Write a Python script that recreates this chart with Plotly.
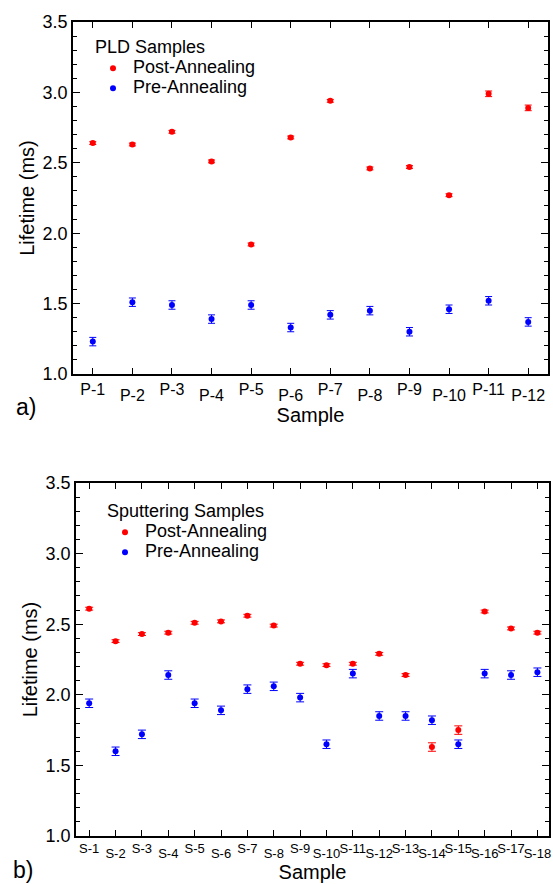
import plotly.graph_objects as go

# ---------------- data ----------------
pld_samples = ["P-1", "P-2", "P-3", "P-4", "P-5", "P-6", "P-7", "P-8", "P-9", "P-10", "P-11", "P-12"]
pld_post = [2.64, 2.63, 2.72, 2.51, 1.92, 2.68, 2.94, 2.46, 2.47, 2.27, 2.99, 2.89]
pld_post_err = [0.01, 0.01, 0.01, 0.01, 0.01, 0.01, 0.01, 0.01, 0.01, 0.01, 0.02, 0.02]
pld_pre = [1.23, 1.51, 1.49, 1.39, 1.49, 1.33, 1.42, 1.45, 1.30, 1.46, 1.52, 1.37]
pld_pre_err = [0.03, 0.03, 0.03, 0.03, 0.03, 0.03, 0.03, 0.03, 0.03, 0.03, 0.03, 0.03]

sp_samples = ["S-1", "S-2", "S-3", "S-4", "S-5", "S-6", "S-7", "S-8", "S-9",
              "S-10", "S-11", "S-12", "S-13", "S-14", "S-15", "S-16", "S-17", "S-18"]
sp_post = [2.61, 2.38, 2.43, 2.44, 2.51, 2.52, 2.56, 2.49, 2.22,
           2.21, 2.22, 2.29, 2.14, 1.63, 1.75, 2.59, 2.47, 2.44]
sp_post_err = [0.01, 0.01, 0.01, 0.01, 0.01, 0.01, 0.01, 0.01, 0.01,
               0.01, 0.01, 0.01, 0.01, 0.03, 0.03, 0.01, 0.01, 0.01]
sp_pre = [1.94, 1.60, 1.72, 2.14, 1.94, 1.89, 2.04, 2.06, 1.98,
          1.65, 2.15, 1.85, 1.85, 1.82, 1.65, 2.15, 2.14, 2.16]
sp_pre_err = [0.03, 0.03, 0.03, 0.03, 0.03, 0.03, 0.03, 0.03, 0.03,
              0.03, 0.03, 0.03, 0.03, 0.03, 0.03, 0.03, 0.03, 0.03]

legend_titles = ["PLD Samples", "Sputtering Samples"]
series_names = ["Post-Annealing", "Pre-Annealing"]

FONT = "Arial, Liberation Sans, sans-serif"
RED = "#ff0000"
BLUE = "#0000ff"

pld_x = list(range(1, len(pld_samples) + 1))
sp_x = list(range(1, len(sp_samples) + 1))


def big(t):
    return '<span style="font-size:18px">' + t + "</span>"


def series(x, y, err, color, name, xa, ya, legend, capw):
    return go.Scatter(
        x=x, y=y, mode="markers", name=big(name),
        marker=dict(color=color, size=6, symbol="circle", line=dict(width=0)),
        error_y=dict(type="data", array=err, visible=True, color=color,
                     thickness=1, width=capw),
        xaxis=xa, yaxis=ya, legend=legend,
    )


fig = go.Figure()
fig.add_trace(series(pld_x, pld_post, pld_post_err, RED, series_names[0], "x", "y", "legend", 3.5))
fig.add_trace(series(pld_x, pld_pre, pld_pre_err, BLUE, series_names[1], "x3", "y", "legend", 3.5))
fig.add_trace(series(sp_x, sp_post, sp_post_err, RED, series_names[0], "x2", "y2", "legend2", 4))
fig.add_trace(series(sp_x, sp_pre, sp_pre_err, BLUE, series_names[1], "x4", "y2", "legend2", 4))

W, H = 553, 884


def xd(a, b):
    return [a / W, b / W]


def yd(top, bottom):
    return [1 - bottom / H, 1 - top / H]


axis_common = dict(showline=True, linewidth=1.7, linecolor="black", mirror="ticks",
                   showgrid=False, zeroline=False, ticks="inside", tickwidth=1.4,
                   tickcolor="black", automargin=False)

yaxis_common = dict(axis_common, range=[1.0, 3.5], dtick=0.5, tick0=1.0, tickformat=".1f",
                    ticklen=7, tickfont=dict(size=18, color="black"),
                    minor=dict(ticks="inside", ticklen=4, dtick=0.1, tickwidth=1.4,
                               tickcolor="black", showgrid=False),
                    title=dict(text="Lifetime (ms)", font=dict(size=20, color="black"), standoff=3))

overlay_common = dict(ticks="", showline=False, showgrid=False, zeroline=False, automargin=False,
                      title=dict(text="Sample", font=dict(size=20, color="black"), standoff=4))

odd_pld = [s if i % 2 == 0 else "" for i, s in enumerate(pld_samples)]
even_pld_x = [x for i, x in enumerate(pld_x) if i % 2 == 1]
even_pld = [s for i, s in enumerate(pld_samples) if i % 2 == 1]
odd_sp = [s if i % 2 == 0 else "" for i, s in enumerate(sp_samples)]
even_sp_x = [x for i, x in enumerate(sp_x) if i % 2 == 1]
even_sp = [s for i, s in enumerate(sp_samples) if i % 2 == 1]

legend_common = dict(xanchor="left", yanchor="top", bgcolor="rgba(0,0,0,0)", borderwidth=0,
                     font=dict(size=13, color="black"), itemsizing="trace", tracegroupgap=0)

fig.update_layout(
    template="none",
    width=W, height=H,
    margin=dict(l=0, r=0, t=0, b=0, pad=0),
    paper_bgcolor="white", plot_bgcolor="white",
    font=dict(family=FONT, color="black"),
    xaxis=dict(axis_common, domain=xd(73, 548), anchor="y", range=[0.5, 12.5],
               tickvals=pld_x, ticktext=odd_pld, ticklen=6,
               tickfont=dict(size=16, color="black")),
    xaxis3=dict(overlay_common, overlaying="x", anchor="y", range=[0.5, 12.5],
                tickvals=even_pld_x, ticktext=even_pld, ticklabelstandoff=10,
                tickfont=dict(size=16, color="black")),
    yaxis=dict(yaxis_common, domain=yd(22, 374), anchor="x"),
    xaxis2=dict(axis_common, domain=xd(76, 549), anchor="y2", range=[0.5, 18.44],
                tickvals=sp_x, ticktext=odd_sp, ticklen=6,
                tickfont=dict(size=13, color="black")),
    xaxis4=dict(overlay_common, overlaying="x2", anchor="y2", range=[0.5, 18.44],
                tickvals=even_sp_x, ticktext=even_sp, ticklabelstandoff=8,
                tickfont=dict(size=13, color="black")),
    yaxis2=dict(yaxis_common, domain=yd(483, 836), anchor="x2"),
    legend=dict(legend_common, x=93 / W, y=1 - 30 / H,
                title=dict(text=legend_titles[0], font=dict(size=18, color="black"))),
    legend2=dict(legend_common, x=105 / W, y=1 - 494 / H,
                 title=dict(text=legend_titles[1], font=dict(size=18, color="black"))),
    showlegend=True,
    annotations=[
        dict(text="a)", x=26 / W, y=1 - 407 / H, xref="paper", yref="paper",
             showarrow=False, font=dict(size=23, color="black"), xanchor="center", yanchor="middle"),
        dict(text="b)", x=23 / W, y=1 - 870 / H, xref="paper", yref="paper",
             showarrow=False, font=dict(size=23, color="black"), xanchor="center", yanchor="middle"),
    ],
)

fig.write_html("out.html", config={"displayModeBar": False},
               post_script="document.body.style.margin='0';document.body.style.overflow='hidden';")
